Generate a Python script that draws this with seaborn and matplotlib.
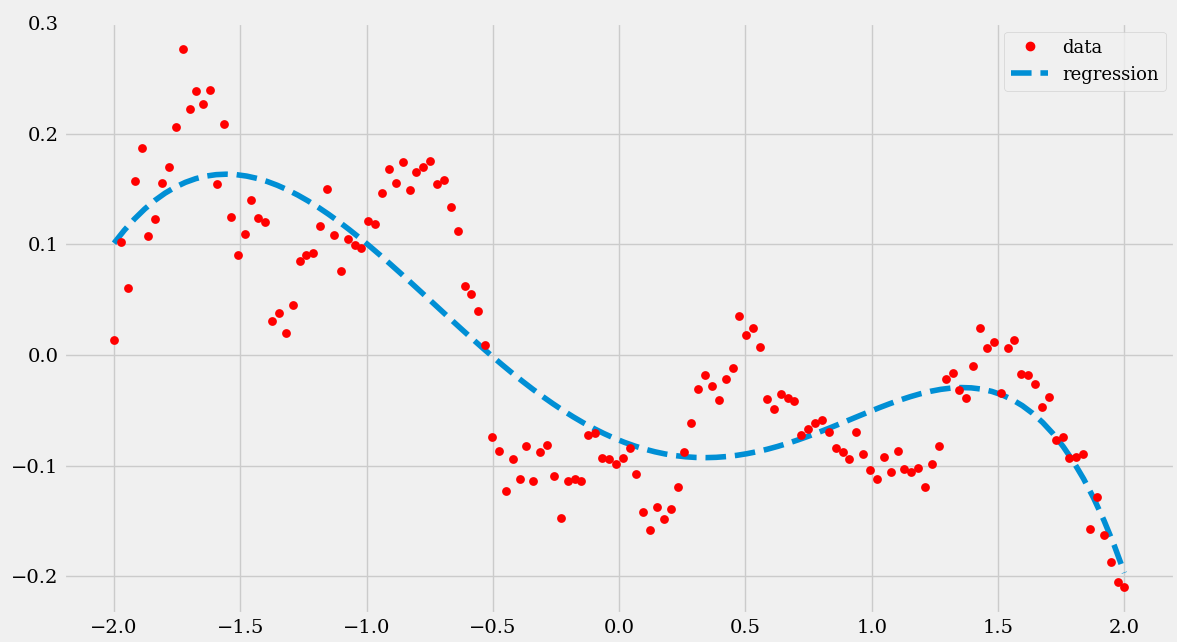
import numpy as np
import pandas as pd
import matplotlib
matplotlib.use("Agg")
import matplotlib.pyplot as plt
from matplotlib.lines import Line2D
import seaborn as sns

# Evenly spaced sample positions
x_start, x_stop, n_points = -2.0, 2.0, 148

# Observed values at each sample position
y_values = [
    0.013, 0.102, 0.060, 0.157, 0.187, 0.107, 0.123, 0.155, 0.170, 0.206,
    0.276, 0.222, 0.238, 0.227, 0.239, 0.154, 0.209, 0.125, 0.090, 0.109,
    0.140, 0.124, 0.120, 0.031, 0.038, 0.020, 0.045, 0.085, 0.090, 0.092,
    0.116, 0.150, 0.108, 0.076, 0.105, 0.099, 0.097, 0.121, 0.118, 0.146,
    0.168, 0.155, 0.174, 0.149, 0.165, 0.170, 0.175, 0.154, 0.158, 0.134,
    0.112, 0.062, 0.055, 0.040, 0.009, -0.074, -0.087, -0.123, -0.094, -0.112,
    -0.082, -0.114, -0.088, -0.081, -0.109, -0.147, -0.114, -0.112, -0.114, -0.072,
    -0.071, -0.093, -0.094, -0.099, -0.093, -0.084, -0.108, -0.142, -0.158, -0.137,
    -0.148, -0.139, -0.119, -0.088, -0.062, -0.031, -0.018, -0.028, -0.041, -0.022,
    -0.012, 0.035, 0.018, 0.024, 0.007, -0.040, -0.049, -0.035, -0.039, -0.042,
    -0.072, -0.067, -0.062, -0.059, -0.070, -0.084, -0.088, -0.094, -0.070, -0.090,
    -0.104, -0.112, -0.092, -0.106, -0.087, -0.103, -0.106, -0.102, -0.119, -0.099,
    -0.082, -0.022, -0.016, -0.032, -0.039, -0.010, 0.024, 0.006, 0.012, -0.034,
    0.006, 0.013, -0.017, -0.018, -0.026, -0.047, -0.038, -0.077, -0.074, -0.093,
    -0.092, -0.090, -0.157, -0.128, -0.163, -0.187, -0.205, -0.210,
]

# Polynomial degree of the fitted regression curve
poly_order = 5

x_ticks = [-2.0, -1.5, -1.0, -0.5, 0.0, 0.5, 1.0, 1.5, 2.0]
y_ticks = [-0.2, -0.1, 0.0, 0.1, 0.2, 0.3]

df = pd.DataFrame({
    "x": np.linspace(x_start, x_stop, n_points),
    "y": y_values,
})

plt.style.use("fivethirtyeight")
plt.rcParams["font.family"] = "DejaVu Serif"

fig = plt.figure(figsize=(11.77, 6.42), dpi=100)
ax = fig.add_axes([63.5 / 1177, 1 - 614.2 / 642, 1111.4 / 1177, 591.7 / 642])

data_color = "red"
fit_color = "#008fd5"

sns.scatterplot(data=df, x="x", y="y", color=data_color, s=40, linewidth=0,
                legend=False, ax=ax, zorder=3)
sns.regplot(data=df, x="x", y="y", order=poly_order, scatter=False, ci=None,
            color=fit_color, ax=ax,
            line_kws={"linestyle": "--", "linewidth": 4, "zorder": 2})

ax.set_xlabel("")
ax.set_ylabel("")
ax.set_xticks(x_ticks)
ax.set_yticks(y_ticks)

handles = [
    Line2D([], [], marker="o", color=data_color, linestyle="None",
           markersize=6, label="data"),
    Line2D([], [], color=fit_color, linestyle="--", linewidth=4,
           label="regression"),
]
ax.legend(handles=handles, loc="upper right", fontsize=13)

fig.savefig("out.png", dpi=100)
